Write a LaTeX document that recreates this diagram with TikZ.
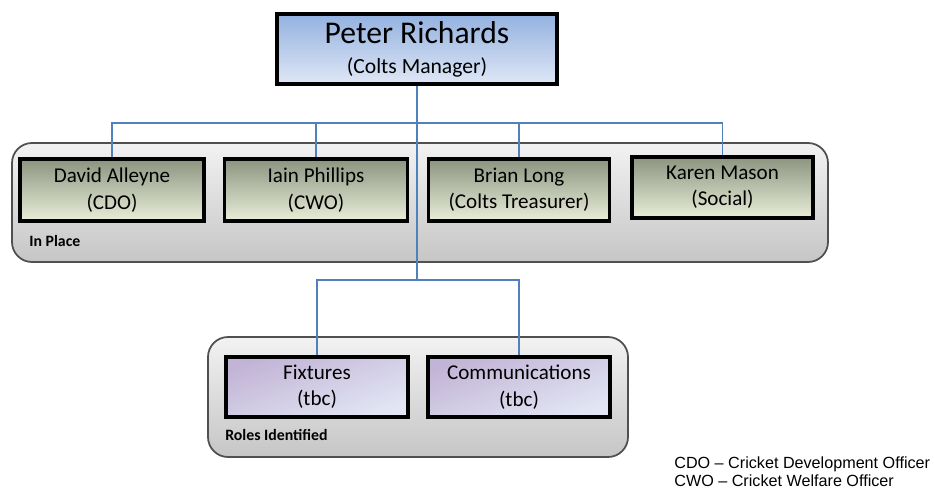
\documentclass[tikz,border=0pt]{standalone}
\usepackage{fontspec}
\setmainfont{Carlito}
\newfontfamily\legendfont{Liberation Sans}
\usetikzlibrary{positioning,fit}

\definecolor{linkblue}{HTML}{4F81BD}
\definecolor{groupedge}{HTML}{505050}
\definecolor{bosstop}{HTML}{93B1E0}
\definecolor{bossbot}{HTML}{DFE7F5}
\definecolor{posttop}{HTML}{8C9480}
\definecolor{postbot}{HTML}{E8EED8}
\definecolor{opentop}{HTML}{C2B4D6}
\definecolor{openmid}{HTML}{F2E0E0}
\definecolor{openbot}{HTML}{E2E6F4}

\begin{document}
\begin{tikzpicture}[x=0.02cm,y=-0.02cm]
        \edef\px{0.02cm}
        \tikzstyle{group}=[draw=groupedge,line width=1pt,rounded corners=0.4cm,top color=gray!10,bottom color=gray!45]
        \tikzstyle{post}=[draw=black,line width=2pt,align=center,inner sep=0pt,
            top color=posttop,bottom color=postbot,
            font=\fontsize{12}{15}\selectfont]
        \tikzstyle{open}=[draw=black,line width=2pt,align=center,inner sep=0pt,
            top color=opentop,middle color=openmid,bottom color=openbot,shading angle=20,
            font=\fontsize{12}{15}\selectfont]
        \tikzstyle{tag}=[anchor=west,inner sep=0pt,font=\fontsize{9}{11}\selectfont\bfseries]
        \tikzstyle{link}=[draw=linkblue,line width=0.8pt]

        \useasboundingbox (0,0) rectangle (934,491);

        % groups behind the posts
        \node[group,fit={(12,143) (828,262)},inner sep=0pt] (inplace) {};
        \node[group,fit={(208,337) (628,457)},inner sep=0pt] (roles) {};
        \node[tag] (inplace_label) at (29,241) {In Place};
        \node[tag] (roles_label) at (225,435) {Roles Identified};

        % manager
        \node[draw=black,line width=2pt,align=center,inner sep=0pt,top color=bosstop,bottom color=bossbot,
            minimum width=280*\px,minimum height=70*\px] (boss) at (417,49)
            {{\fontsize{18}{20}\selectfont Peter Richards}\\[5pt]{\fontsize{12.3}{14}\selectfont (Colts Manager)}};

        % in place
        \node[post,minimum width=184*\px,minimum height=62*\px] (david) at (112,190) {David Alleyne\\(CDO)};
        \node[post,minimum width=183*\px,minimum height=62*\px] (iain)  at (316,190) {Iain Phillips\\(CWO)};
        \node[post,minimum width=181*\px,minimum height=62*\px] (brian) at (519,190) {Brian Long\\(Colts Treasurer)};
        \node[post,minimum width=181*\px,minimum height=61*\px] (karen) at (722.5,187.5) {Karen Mason\\(Social)};

        % roles identified
        \node[open,minimum width=182*\px,minimum height=60*\px] (fixtures) at (317,387) {Fixtures\\(tbc)};
        \node[open,minimum width=182*\px,minimum height=60*\px] (comms)    at (519,387) {Communications\\(tbc)};

        \node[anchor=north west,align=left,inner sep=0pt,font=\legendfont\fontsize{9.2}{10.5}\selectfont] (legend) at (674,456)
            {CDO – Cricket Development Officer\\CWO – Cricket Welfare Officer};

        \coordinate (upper) at (417,123);
        \coordinate (lower) at (417,280);
        \draw[link] (boss.south) -- (lower);
        \foreach \who in {david,iain,brian,karen}
            \draw[link] (upper) -| (\who.north);
        \draw[link] (lower) -| (fixtures.north);  % lower left
        \draw[link] (lower) -| (comms.north);     % lower right
\end{tikzpicture}
\end{document}
